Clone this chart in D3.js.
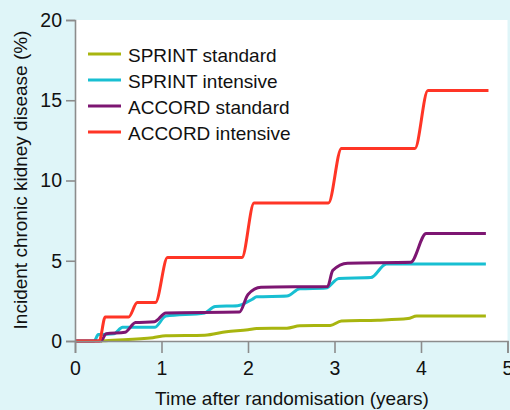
<!DOCTYPE html>
<html>
<head>
<meta charset="utf-8">
<script src="https://cdn.jsdelivr.net/npm/d3@7"></script>
<style>
  body { margin: 0; background: #dff5f8; }
  svg { display: block; font-family: "Liberation Sans", Arial, sans-serif; }
</style>
</head>
<body>
<svg width="510" height="410"></svg>
<script>
// series names + colours
var seriesNames = ["SPRINT standard", "SPRINT intensive", "ACCORD standard", "ACCORD intensive"];
var seriesColors = ["#a8b50f", "#18bfd2", "#7d1672", "#ff3526"];

// [years, %]
var sprintStandard = [[0.3,0],[0.35,0.02],[0.9,0.2],[1.05,0.33],[1.5,0.36],[1.75,0.58],[2.0,0.7],[2.1,0.78],[2.45,0.8],[2.6,0.95],[2.95,0.97],[3.08,1.25],[3.5,1.3],[3.85,1.4],[3.95,1.55],[4.75,1.55]];
var sprintIntensive = [[0,0],[0.22,0],[0.27,0.4],[0.45,0.45],[0.55,0.85],[0.92,0.85],[1.05,1.55],[1.5,1.75],[1.62,2.15],[1.88,2.2],[2.05,2.6],[2.1,2.75],[2.45,2.8],[2.6,3.25],[2.9,3.3],[3.05,3.9],[3.42,3.95],[3.6,4.8],[4.75,4.8]];
var accordStandard = [[0,0],[0.3,0],[0.36,0.45],[0.58,0.55],[0.7,1.15],[0.92,1.2],[1.05,1.75],[1.9,1.8],[2.0,2.9],[2.15,3.35],[2.92,3.4],[2.98,4.4],[3.15,4.85],[3.88,4.9],[4.06,6.7],[4.75,6.7]];
var accordIntensive = [[0,0],[0.28,0],[0.35,1.5],[0.62,1.5],[0.72,2.4],[0.93,2.4],[1.07,5.2],[1.93,5.2],[2.07,8.6],[2.93,8.6],[3.08,12],[3.93,12],[4.08,15.6],[4.78,15.6]];

var xTicks = [0, 1, 2, 3, 4, 5];
var yTicks = [0, 5, 10, 15, 20];

var allSeries = [sprintStandard, sprintIntensive, accordStandard, accordIntensive];

var svg = d3.select("svg");
var x = d3.scaleLinear().domain([0, 5]).range([75, 507.5]);
var y = d3.scaleLinear().domain([0, 20]).range([341, 20]);

// white plot panel
svg.append("rect")
  .attr("x", x(0)).attr("y", y(20))
  .attr("width", x(5) - x(0)).attr("height", y(0) - y(20))
  .attr("fill", "#ffffff");

var line = d3.line()
  .x(function(d) { return x(d[0]); })
  .y(function(d) { return y(d[1]); })
  .curve(d3.curveMonotoneX);

svg.selectAll("path.series")
  .data(allSeries)
  .enter().append("path")
  .attr("class", "series")
  .attr("d", line)
  .attr("fill", "none")
  .attr("stroke", function(d, i) { return seriesColors[i]; })
  .attr("stroke-width", 3)
  .attr("stroke-linejoin", "round");

// axes
var xAxis = svg.append("g")
  .attr("transform", "translate(0," + y(0) + ")")
  .call(d3.axisBottom(x).tickValues(xTicks).tickSize(12).tickPadding(8).tickFormat(d3.format("d")));
var yAxis = svg.append("g")
  .attr("transform", "translate(" + x(0) + ",0)")
  .call(d3.axisLeft(y).tickValues(yTicks).tickSize(9).tickPadding(4).tickFormat(d3.format("d")));

[xAxis, yAxis].forEach(function(g) {
  g.select(".domain").attr("stroke", "#8c8c8c").attr("stroke-width", 1.6);
  g.selectAll(".tick line").attr("stroke", "#8c8c8c").attr("stroke-width", 1.6);
  g.selectAll(".tick text").attr("fill", "#111").attr("font-size", 19.5)
    .attr("font-family", "Liberation Sans, Arial, sans-serif");
});

// axis titles
svg.append("text")
  .attr("x", 292).attr("y", 405)
  .attr("text-anchor", "middle")
  .attr("font-size", 19).attr("fill", "#111")
  .text("Time after randomisation (years)");

svg.append("text")
  .attr("transform", "translate(27,180) rotate(-90)")
  .attr("text-anchor", "middle")
  .attr("font-size", 19).attr("fill", "#111")
  .text("Incident chronic kidney disease (%)");

// legend
var legend = svg.selectAll("g.legend")
  .data(seriesNames)
  .enter().append("g")
  .attr("class", "legend")
  .attr("transform", function(d, i) { return "translate(88," + (54 + i * 26) + ")"; });
legend.append("line")
  .attr("x1", 0).attr("x2", 33)
  .attr("stroke", function(d, i) { return seriesColors[i]; })
  .attr("stroke-width", 3);
legend.append("text")
  .attr("x", 40).attr("y", 8)
  .attr("font-size", 19).attr("fill", "#111")
  .text(function(d) { return d; });
</script>
</body>
</html>
